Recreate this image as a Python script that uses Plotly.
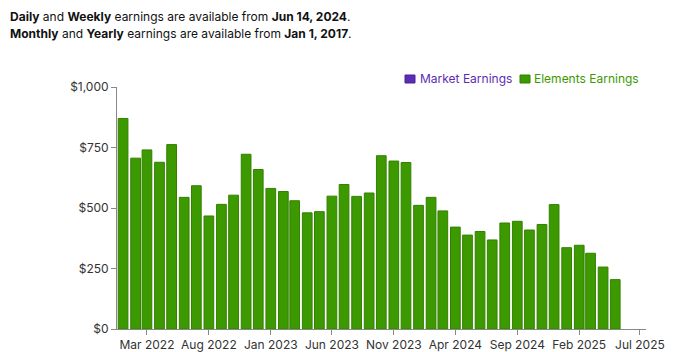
import plotly.graph_objects as go
import pandas as pd

months = pd.date_range("2022-01-01", "2025-05-01", freq="MS").strftime("%Y-%m-%d").tolist()
elements_earnings = [870, 706, 740, 689, 762, 544, 592, 467, 515, 553,
                     722, 659, 581, 568, 530, 480, 485, 549, 597, 548,
                     562, 716, 694, 688, 511, 544, 488, 421, 388, 403,
                     368, 438, 445, 409, 432, 514, 336, 346, 313, 256, 204]
market_months = ["2022-01-01"]
market_earnings = [None]

y_ticks = [0, 250, 500, 750, 1000]
y_tick_labels = ["$0", "$250", "$500", "$750", "$1,000"]

GREEN = "#3d9900"
PURPLE = "#5b2db3"
DAY = 86400000
FONT = "Inter, 'Inter Variable', sans-serif"

# plot area in pixels: x 117..646, y 87..329
PW, PH, L, B = 529, 242, 117, 329
def px(x):
    return (x - L) / PW
def py(y):
    return (B - y) / PH

fig = go.Figure()
fig.add_trace(go.Bar(
    x=market_months, y=market_earnings, name="Market Earnings",
    marker=dict(color=PURPLE, line=dict(color="#4a2296", width=1)),
    showlegend=False,
))
fig.add_trace(go.Bar(
    x=months, y=elements_earnings, name="Elements Earnings",
    marker=dict(color=GREEN, line=dict(color="#338000", width=1)),
    width=24 * DAY, showlegend=False,
))

# header text
fig.add_annotation(
    text="<b>Daily</b> and <b>Weekly</b> earnings are available from <b>Jun 14, 2024</b>.",
    xref="paper", yref="paper", x=px(8), y=py(16),
    xanchor="left", yanchor="middle", showarrow=False,
    font=dict(family=FONT, size=12, color="#111"),
)
fig.add_annotation(
    text="<b>Monthly</b> and <b>Yearly</b> earnings are available from <b>Jan 1, 2017</b>.",
    xref="paper", yref="paper", x=px(8), y=py(33),
    xanchor="left", yanchor="middle", showarrow=False,
    font=dict(family=FONT, size=12, color="#111"),
)

# legend (drawn manually for tight symbol/text spacing)
legend_items = [("Market Earnings", PURPLE, "#4a2296", 405, 419),
                ("Elements Earnings", GREEN, "#338000", 520, 533)]
for name, col, edge, sx, tx in legend_items:
    fig.add_shape(type="rect", xref="paper", yref="paper",
                  x0=px(sx), x1=px(sx + 10), y0=py(83), y1=py(75),
                  fillcolor=col, line=dict(color=edge, width=1))
    fig.add_annotation(text=name, xref="paper", yref="paper", x=px(tx - 1), y=py(78),
                       xanchor="left", yanchor="middle", showarrow=False,
                       font=dict(family=FONT, size=12, color=col))

fig.update_layout(
    width=690, height=352,
    margin=dict(l=117, r=44, t=87, b=23, autoexpand=False),
    plot_bgcolor="white", paper_bgcolor="white",
    font=dict(family=FONT, size=12, color="#333"),
    barmode="overlay",
    showlegend=False,
    xaxis=dict(
        type="date", automargin=False,
        range=["2021-12-17", "2025-07-16"],
        tick0="2022-03-01", dtick="M5", tickformat="%b %Y", tickangle=0,
        ticks="outside", ticklen=5, tickcolor="#888",
        showline=True, linecolor="#888", linewidth=1,
        showgrid=False, zeroline=False,
        tickfont=dict(size=12, color="#333"),
    ),
    yaxis=dict(
        range=[0, 1000], automargin=False,
        tickmode="array", tickvals=y_ticks, ticktext=y_tick_labels,
        ticks="outside", ticklen=5, tickcolor="#888",
        showline=True, linecolor="#888", linewidth=1,
        showgrid=False, zeroline=False,
        tickfont=dict(size=12, color="#333"),
    ),
)

fig.write_html("out.html")
